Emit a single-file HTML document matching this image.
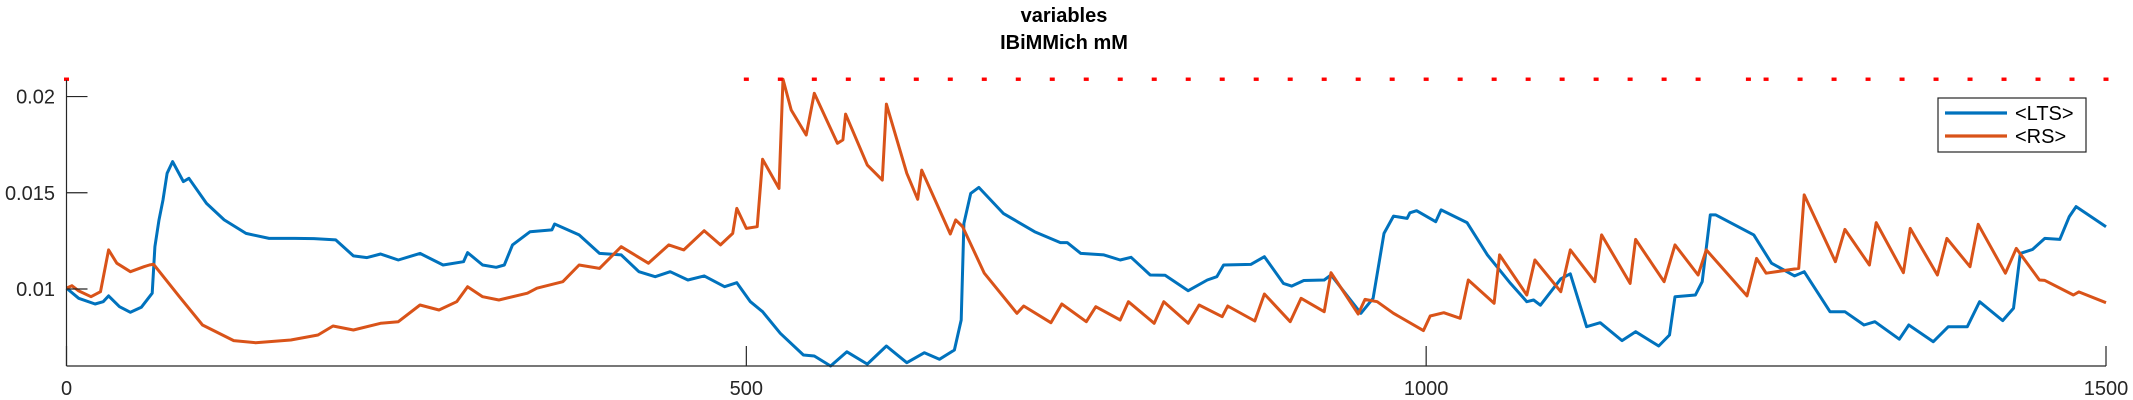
<!DOCTYPE html>
<html><head><meta charset="utf-8"><style>
html,body{margin:0;padding:0;background:#fff;}
svg{display:block;font-family:"Liberation Sans",sans-serif;}
</style></head><body>
<svg id="chart" width="2133" height="400" xmlns="http://www.w3.org/2000/svg">
<text x="1064" y="22" text-anchor="middle" font-size="20" font-weight="bold" fill="#000">variables</text>
<text x="1064" y="49" text-anchor="middle" font-size="20" font-weight="bold" fill="#000">IBiMMich mM</text>
<g id="plot"></g>
<g id="axes"></g>
<g>
<rect x="1938" y="98" width="148" height="54" fill="#fff" stroke="#262626" stroke-width="1.2"/>
<g>
<line x1="1945" y1="113" x2="2007" y2="113" stroke="#0072BD" stroke-width="3.2"/>
<text x="2015" y="120" font-size="20" fill="#000">&lt;LTS&gt;</text></g>
<g>
<line x1="1945" y1="136" x2="2007" y2="136" stroke="#D95319" stroke-width="3.2"/>
<text x="2015" y="143" font-size="20" fill="#000">&lt;RS&gt;</text></g>
</g>
</svg>
<script>
const ltsT=[0,9,21,27,31,39,47,55,63,65,68,71,74,78,86,90,103,116,132,149,168,182,198,211,221,231,244,260,277,292,295,306,316,322,328,341,357,359,377,392,408,421,433,444,457,469,484,493,503,512,525,542,550,562,574,589,603,618,631,642,653,658,660,665,671,689,712,731,736,746,763,775,783,797,808,825,839,846,851,871,881,895,901,910,925,930,952,961,969,976,986,988,993,1007,1011,1030,1045,1062,1074,1079,1084,1099,1106,1118,1128,1144,1154,1171,1179,1183,1198,1203,1209,1213,1241,1254,1271,1278,1297,1308,1322,1330,1348,1355,1373,1384,1398,1407,1424,1432,1437,1446,1455,1466,1473,1478,1500];
const ltsV=[0.01005,0.00952,0.00922,0.00934,0.00964,0.00908,0.00879,0.00905,0.00978,0.0122,0.01359,0.01463,0.01601,0.01662,0.01558,0.01575,0.01445,0.01359,0.01289,0.01263,0.01263,0.01262,0.01255,0.01172,0.01163,0.01182,0.01151,0.01185,0.01125,0.01142,0.01189,0.01125,0.01113,0.01125,0.01229,0.01298,0.01307,0.01338,0.01281,0.01185,0.01177,0.0109,0.01064,0.0109,0.01047,0.01068,0.01012,0.01033,0.00934,0.00882,0.0077,0.00657,0.00652,0.006,0.00674,0.0061,0.00704,0.00617,0.00669,0.00635,0.00683,0.00839,0.01341,0.01497,0.01528,0.01393,0.01298,0.01241,0.01241,0.01185,0.01177,0.01151,0.01165,0.01073,0.01071,0.00991,0.01047,0.01064,0.01125,0.01128,0.01168,0.01029,0.01015,0.01044,0.01047,0.01073,0.00874,0.00952,0.01289,0.01379,0.01367,0.01396,0.01407,0.0135,0.01411,0.01345,0.01177,0.01029,0.00934,0.00943,0.00916,0.01053,0.01079,0.00804,0.00825,0.00732,0.00778,0.00704,0.00761,0.0096,0.00969,0.01038,0.01385,0.01385,0.01281,0.01134,0.01068,0.0109,0.00882,0.00882,0.00813,0.0083,0.00739,0.00813,0.00726,0.00804,0.00804,0.00934,0.00836,0.009,0.01185,0.01206,0.01263,0.01258,0.01376,0.01428,0.01324];
const rsT=[0,4,9,18,25,31,37,47,57,61,64,83,100,123,139,165,185,196,211,231,244,260,274,287,295,306,318,339,346,365,377,392,408,428,443,454,469,481,490,493,500,508,512,524,527,533,544,550,567,571,573,589,600,603,618,626,629,650,654,659,675,699,704,724,732,750,757,775,781,800,807,825,833,850,854,874,881,900,908,925,930,950,955,964,976,998,1003,1013,1025,1031,1050,1054,1074,1080,1099,1106,1124,1129,1150,1154,1175,1183,1200,1206,1236,1243,1250,1274,1278,1301,1308,1326,1331,1351,1356,1376,1383,1400,1406,1426,1434,1451,1455,1476,1480,1500];
const rsV=[0.01005,0.01017,0.0099,0.0096,0.00986,0.01203,0.01134,0.0109,0.01116,0.01125,0.01129,0.0096,0.00813,0.00732,0.00721,0.00735,0.00761,0.00808,0.00787,0.00822,0.0083,0.00917,0.00891,0.00934,0.01012,0.0096,0.00943,0.00978,0.01004,0.01038,0.01125,0.01107,0.0122,0.01134,0.01229,0.01203,0.01303,0.01229,0.01289,0.01419,0.01315,0.01324,0.01674,0.01523,0.0209,0.0193,0.018,0.02017,0.01757,0.01775,0.01909,0.01644,0.01566,0.01961,0.01601,0.01466,0.01618,0.01286,0.01359,0.01325,0.01082,0.00874,0.00912,0.00825,0.00922,0.0083,0.00908,0.00839,0.00934,0.00822,0.00934,0.00822,0.00917,0.00856,0.00912,0.00834,0.00974,0.0083,0.00952,0.00882,0.01085,0.0087,0.00946,0.00934,0.00874,0.00784,0.0086,0.00877,0.00848,0.01047,0.00926,0.01177,0.00969,0.01151,0.00986,0.01203,0.01038,0.01281,0.01029,0.01258,0.01038,0.01229,0.01073,0.01203,0.00964,0.01159,0.01082,0.01107,0.01489,0.01142,0.0131,0.01125,0.01345,0.01085,0.01315,0.01073,0.01263,0.01116,0.01336,0.01082,0.01211,0.01047,0.01045,0.00969,0.00985,0.00929];
const dotT=[0,500,525,550,575,600,625,650,675,700,725,750,775,800,825,850,875,900,925,950,975,1000,1025,1050,1075,1100,1125,1150,1175,1200,1237,1250,1275,1300,1325,1350,1375,1400,1425,1450,1475,1500];
const dotV=0.0209;
const xTicks=[0,500,1000,1500];
const yTicks=[0.01,0.015,0.02];
const yTickLabels=["0.01","0.015","0.02"];

const X0=66.5,X1=2106,Y0=366,Y1=80,XMIN=0,XMAX=1500,YMIN=0.006,YMAX=0.02086;
const sx=t=>X0+(t-XMIN)/(XMAX-XMIN)*(X1-X0);
const sy=v=>Y0-(v-YMIN)/(YMAX-YMIN)*(Y0-Y1);
const NS="http://www.w3.org/2000/svg";
const plot=document.getElementById('plot'),axes=document.getElementById('axes');
function mk(tag,attrs,parent){const e=document.createElementNS(NS,tag);for(const k in attrs)e.setAttribute(k,attrs[k]);parent.appendChild(e);return e;}

const lts=mk('polyline',{points:ltsT.map((t,i)=>sx(t).toFixed(1)+','+sy(ltsV[i]).toFixed(1)).join(' '),fill:'none',stroke:'#0072BD','stroke-width':3,'stroke-linejoin':'round'},plot);


const rs=mk('polyline',{points:rsT.map((t,i)=>sx(t).toFixed(1)+','+sy(rsV[i]).toFixed(1)).join(' '),fill:'none',stroke:'#D95319','stroke-width':3,'stroke-linejoin':'round'},plot);


dotT.forEach(t=>{
  const d=mk('rect',{x:sx(t)-2.5,y:sy(dotV)-1.7,width:5,height:3.4,fill:'#ff0000'},plot);
  
  
});

const ya=mk('line',{x1:X0,y1:Y1,x2:X0,y2:Y0,stroke:'#262626','stroke-width':1.2},axes);


const xa=mk('line',{x1:X0,y1:Y0,x2:X1,y2:Y0,stroke:'#262626','stroke-width':1.2},axes);


xTicks.forEach(t=>{
  const l=mk('line',{x1:sx(t),y1:Y0,x2:sx(t),y2:Y0-20,stroke:'#262626','stroke-width':1.2},axes);
  
  
  const tx=mk('text',{x:sx(t),y:Y0+29,'text-anchor':'middle','font-size':20,fill:'#262626'},axes);
  tx.textContent=String(t);
  
  
});
yTicks.forEach((v,i)=>{
  const l=mk('line',{x1:X0,y1:sy(v),x2:X0+21,y2:sy(v),stroke:'#262626','stroke-width':1.2},axes);
  
  
  const tx=mk('text',{x:55,y:sy(v)+7,'text-anchor':'end','font-size':20,fill:'#262626'},axes);
  tx.textContent=yTickLabels[i];
  
  
});
</script>
</body></html>
